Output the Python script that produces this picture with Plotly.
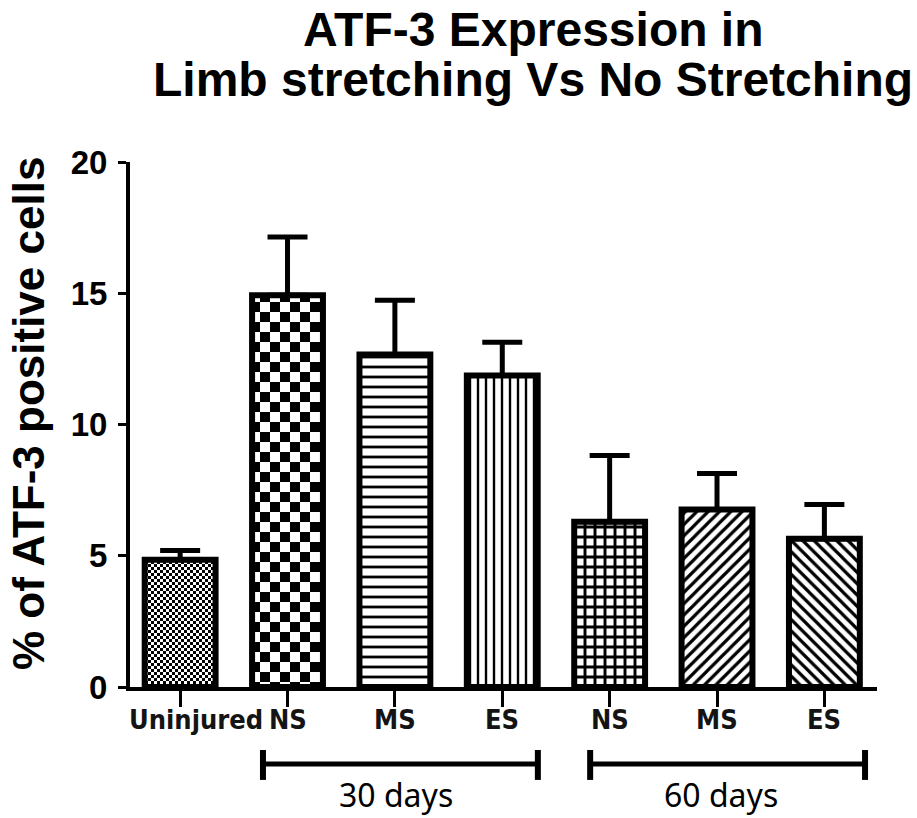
import plotly.graph_objects as go

# ---- data ----
group_labels = ["Uninjured", "NS", "MS", "ES", "NS", "MS", "ES"]
means = [4.85, 14.92, 12.67, 11.87, 6.30, 6.76, 5.65]
sem_upper = [0.35, 2.22, 2.06, 1.26, 2.52, 1.37, 1.30]
period_labels = ["30 days", "60 days"]
y_ticks = [0, 5, 10, 15, 20]

# ---- pattern styles (checker uses custom path if supported) ----
def checker(s):
    h = s / 2
    return f"M0,0H{h}V{h}H0Z M{h},{h}H{s}V{s}H{h}Z"

styles = [
    dict(kind="checker", size=6),
    dict(kind="checker", size=20),
    dict(shape="-", size=10, solidity=0.28),
    dict(shape="|", size=8, solidity=0.3),
    dict(shape="+", size=10, solidity=0.5),
    dict(shape="/", size=8, solidity=0.4),
    dict(shape="\\", size=8, solidity=0.4),
]

def make_pattern(st):
    base = dict(fgcolor="black", bgcolor="white", fgopacity=1)
    if st.get("kind") == "checker":
        try:
            return go.bar.marker.Pattern(path=checker(st["size"]), size=st["size"], **base)
        except Exception:
            return go.bar.marker.Pattern(shape=".", size=st["size"] // 2 + 2, solidity=0.5, **base)
    return go.bar.marker.Pattern(shape=st["shape"], size=st["size"], solidity=st["solidity"], **base)

fig = go.Figure()
for i, (m, e) in enumerate(zip(means, sem_upper)):
    fig.add_trace(go.Bar(
        x=[i], y=[m], width=0.66,
        marker=dict(color="white", line=dict(color="black", width=6),
                    pattern=make_pattern(styles[i])),
        error_y=dict(type="data", symmetric=False, array=[e], arrayminus=[0],
                     color="black", thickness=5, width=20),
        showlegend=False, hoverinfo="skip",
    ))

bold = "Liberation Sans, Arial, sans-serif"
narrow = "Liberation Sans Narrow, DejaVu Sans Condensed, Arial Narrow, sans-serif"

annotations = []
# title lines
annotations.append(dict(text="<b>ATF-3 Expression in</b>", x=0.5395, y=1.2533, xref="paper", yref="paper",
                        xanchor="center", yanchor="middle", showarrow=False,
                        font=dict(family=bold, size=48, color="black")))
annotations.append(dict(text="<b>Limb stretching Vs No Stretching</b>", x=0.5395, y=1.158, xref="paper", yref="paper",
                        xanchor="center", yanchor="middle", showarrow=False,
                        font=dict(family=bold, size=48, color="black")))
# y title
annotations.append(dict(text="<b>% of ATF-3 positive cells</b>", x=-0.1365, y=0.52, xref="paper", yref="paper",
                        xanchor="center", yanchor="middle", showarrow=False, textangle=-90,
                        font=dict(family=bold, size=44, color="black")))
# category labels
label_offsets = [0.15, 0, 0, 0, 0, 0, 0]
for i, lab in enumerate(group_labels):
    annotations.append(dict(text=f"<b>{lab}</b>", x=i + label_offsets[i], y=-0.061, xref="x", yref="paper",
                            xanchor="center", yanchor="middle", showarrow=False,
                            font=dict(family=narrow, size=27, color="#141414")))
# period labels
period_x = [0.356, 0.791]
for px, lab in zip(period_x, period_labels):
    annotations.append(dict(text=lab, x=px, y=-0.2057, xref="paper", yref="paper",
                            xanchor="center", yanchor="middle", showarrow=False,
                            font=dict(family="Noto Sans, Open Sans, sans-serif", size=32, color="black")))

shapes = []
for (x0, x1) in [(0.178, 0.546), (0.616, 0.984)]:
    shapes.append(dict(type="line", xref="paper", yref="paper", x0=x0, x1=x1, y0=-0.1467, y1=-0.1467,
                       line=dict(color="black", width=5)))
    for xx in (x0, x1):
        shapes.append(dict(type="line", xref="paper", yref="paper", x0=xx, x1=xx, y0=-0.12, y1=-0.177,
                           line=dict(color="black", width=6)))

fig.update_layout(
    width=917, height=818,
    margin=dict(l=130, r=40, t=162, b=131),
    paper_bgcolor="white", plot_bgcolor="white",
    barmode="overlay", showlegend=False,
    annotations=annotations, shapes=shapes,
    xaxis=dict(range=[-0.467, 6.49], tickvals=list(range(len(means))), showticklabels=False,
               ticks="outside", ticklen=16, tickwidth=3, tickcolor="black",
               showline=True, linewidth=4, linecolor="black", showgrid=False, zeroline=False),
    yaxis=dict(range=[0, 20], tickvals=y_ticks, ticks="outside", ticklen=8, tickwidth=3, tickcolor="black",
               showline=True, linewidth=4, linecolor="black", showgrid=False, zeroline=False,
               tickfont=dict(family=bold, size=33, color="black", weight="bold"), ticklabelstandoff=4),
)

fig.write_html("out.html", config={"displayModeBar": False},
               post_script="document.body.style.margin='0';document.body.style.overflow='hidden';")
